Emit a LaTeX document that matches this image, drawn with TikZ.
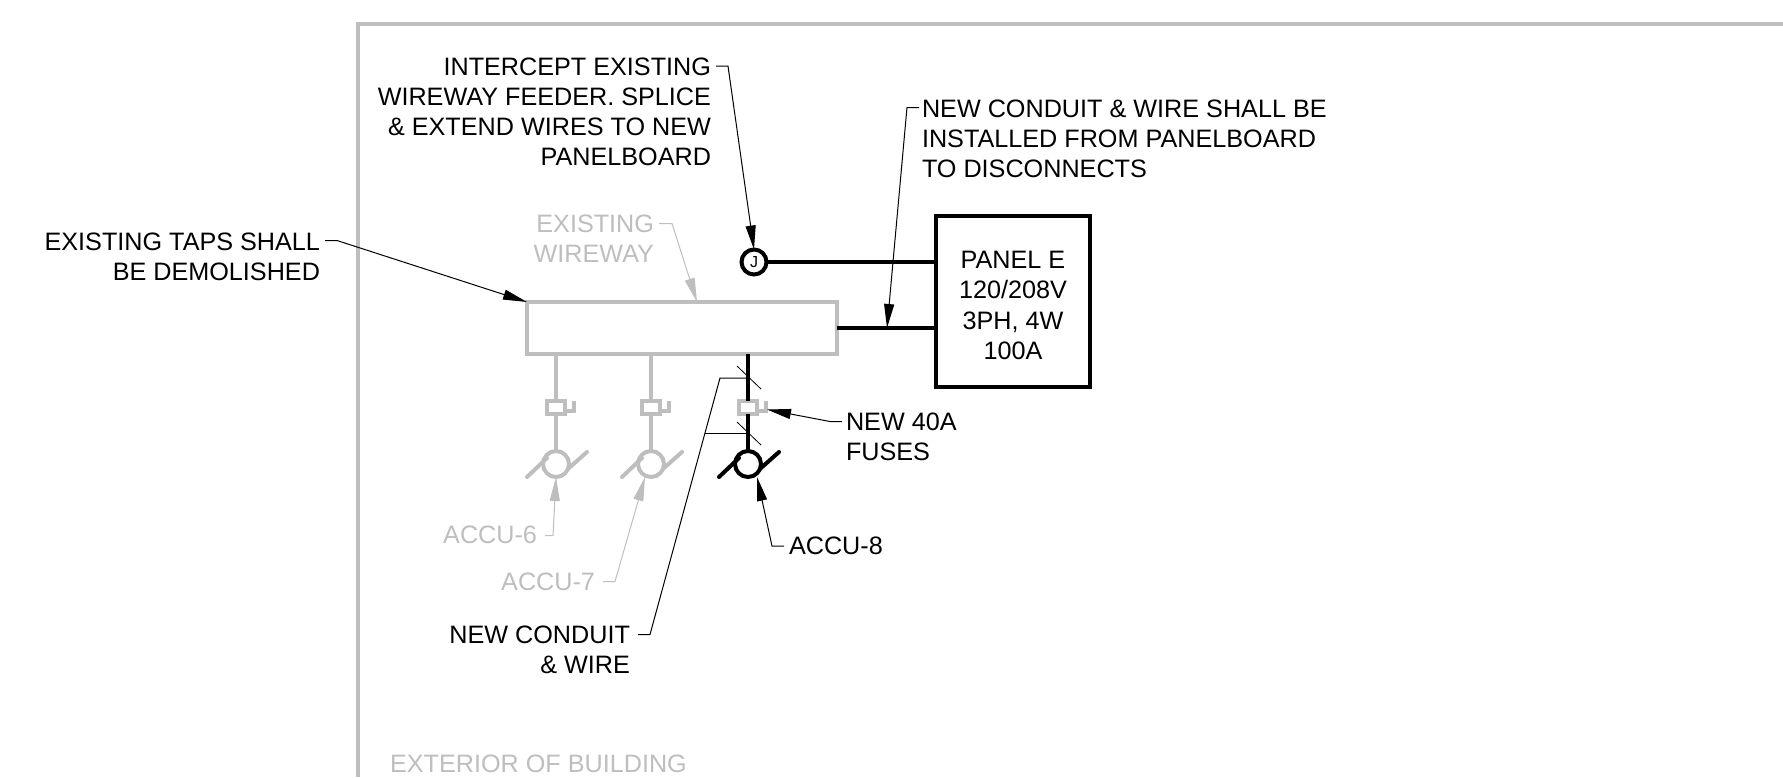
\documentclass[tikz,border=0pt]{standalone}
\usepackage{fontspec}
\setmainfont{Liberation Sans}
\usetikzlibrary{arrows.meta}
\definecolor{oldgray}{HTML}{BEBEBE}
\tikzset{
  note/.style={inner sep=0pt, outer sep=0pt, font=\fontsize{25.2}{30.1}\selectfont},
  noteleft/.style={note, align=left, anchor=north west},
  noteright/.style={note, align=right, anchor=north east},
  leader/.style={line width=1pt, -{Triangle[length=24pt,width=10pt]}},
  wire/.style={line width=4.3pt},
  fusebox/.style={draw=oldgray, fill=white, line width=3.5pt, minimum width=18pt, minimum height=13pt, inner sep=0pt, outer sep=0pt},
  motor/.style={draw, circle, line width=4pt, minimum size=26pt, inner sep=0pt, outer sep=0pt}
}
\begin{document}
\begin{tikzpicture}[x=1pt,y=-1pt]
\useasboundingbox (0,0) rectangle (1783,777);
\draw [oldgray, line width=4pt] (1783,24) -- (358,24) -- (358,777);
\node [note, text=oldgray, anchor=north west] (exterior) at (390,754.5) {EXTERIOR OF BUILDING};

% equipment
\node [draw=oldgray, line width=3.5pt, minimum width=310pt, minimum height=52pt, inner sep=0pt, outer sep=0pt]
  (wireway) at (682,328) {};
\node [draw, line width=4pt, minimum width=154pt, minimum height=171pt, inner sep=0pt, outer sep=0pt]
  (panel) at (1013,301.5) {};
\node [note, align=center, anchor=north] (panel-text) at (1013,251.5) {PANEL E\\120/208V\\3PH, 4W\\100A};
\node [motor, minimum size=25pt, font=\fontsize{16}{16}\selectfont] (jbox) at (754,262) {J};
\draw [wire] (jbox) -- (jbox -| panel.west);
\coordinate (feeder) at (837,328);
\draw [wire] (feeder) -- (feeder -| panel.west);

% disconnects
\foreach \name/\xpos/\col in {accu6/556/oldgray, accu7/651/oldgray, accu8/748/black} {
  \node [fusebox] (fuse-\name) at (\xpos,407.5) {};
  \node [motor, draw=\col] (motor-\name) at (\xpos,464) {};
  \draw [\col, wire] (wireway.south -| fuse-\name.north) -- (fuse-\name.north);
  \draw [\col, wire] (fuse-\name.south) -- (motor-\name.north);
  \draw [oldgray, line width=3.5pt] (fuse-\name.east) ++(0,3.5) -- ++(9,0) -- ++(0,-10);
  \draw [\col, line width=4pt, line cap=round] (motor-\name.center) ++(-29,13) -- ++(20,-19);
  \draw [\col, line width=4pt, line cap=round] (motor-\name.center) ++(13,4) -- ++(18,-16);
}
\draw [line width=0.8pt] (737,366) coordinate (tick-a) -- (761,389);
\draw [line width=0.8pt] (737,422) coordinate (tick-b) -- (761,445);

% notes
\node [noteright] (intercept) at (711,58) {INTERCEPT EXISTING\\WIREWAY FEEDER. SPLICE\\\& EXTEND WIRES TO NEW\\PANELBOARD};
\node [noteleft] (newwire) at (922,99.5) {NEW CONDUIT \& WIRE SHALL BE\\INSTALLED FROM PANELBOARD\\TO DISCONNECTS};
\node [noteright] (taps) at (320,232.5) {EXISTING TAPS SHALL\\BE DEMOLISHED};
\node [noteright, text=oldgray] (existing) at (654,214.5) {EXISTING\\WIREWAY};
\node [noteleft] (fuses) at (846,412.5) {NEW 40A\\FUSES};
\node [noteleft] (accu8) at (789,537) {ACCU-8};
\node [noteright, text=oldgray] (accu6) at (537,525.5) {ACCU-6};
\node [noteright, text=oldgray] (accu7) at (595,572.5) {ACCU-7};
\node [noteright] (conduit) at (630,625.5) {NEW CONDUIT\\\& WIRE};

% leaders
\draw [leader] ([shift={(5pt,-8pt)}]intercept.north east) -- ++(12,0) -- (jbox.north);
\draw [leader] ([shift={(-3pt,-8pt)}]newwire.north west) -- ++(-12,0) -- (feeder -| 887,0);
\draw [leader] ([shift={(5pt,-8pt)}]taps.north east) -- ++(12,0) -- (wireway.north west);
\draw [leader, oldgray] ([shift={(5pt,-9pt)}]existing.north east) -- ++(13,0) -- (697,302);
\draw [leader] ([shift={(-4pt,-9pt)}]fuses.north west) -- ++(-12,0) -- ([shift={(10pt,-2pt)}]fuse-accu8.east);
\draw [leader] ([shift={(-5pt,-9pt)}]accu8.north west) -- ++(-12,0) -- ([shift={(9pt,-13pt)}]motor-accu8.center);
\draw [leader, oldgray] ([shift={(8pt,-10pt)}]accu6.north east) -- ++(8,0) -- (motor-accu6.south);
\draw [leader, oldgray] ([shift={(8pt,-9pt)}]accu7.north east) -- ++(12,0) -- ([shift={(-6pt,-13pt)}]motor-accu7.center);
\draw [line width=1pt] ([shift={(8pt,-9pt)}]conduit.north east) -- ++(12,0) -- (720,378) -- (748,378);
\draw [line width=1pt] (705,433) -- (748,433);
\end{tikzpicture}
\end{document}
